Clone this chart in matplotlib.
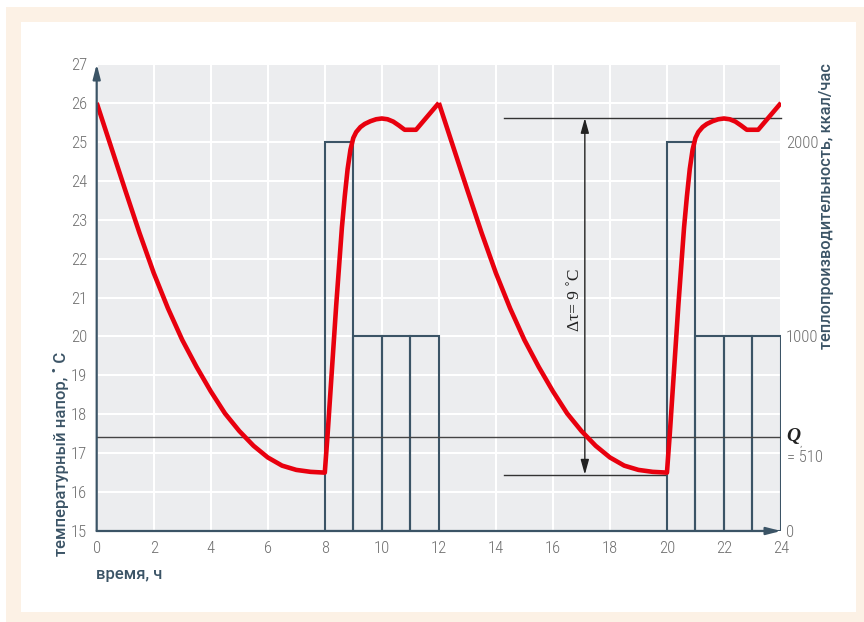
import matplotlib
matplotlib.use('Agg')
import matplotlib.pyplot as plt
from matplotlib.patches import Rectangle
import matplotlib.transforms as mtransforms

# ---------------- data ----------------
hours_cycle1 = [0.0, 0.5, 1.0, 1.5, 2.0, 2.5, 3.0, 3.5, 4.0, 4.5, 5.0, 5.5, 6.0, 6.5, 7.0, 7.5, 8.0,
                8.1, 8.2, 8.3, 8.4, 8.5, 8.6, 8.7, 8.8, 8.9, 9.0, 9.1, 9.25, 9.4, 9.6, 9.8, 10.0,
                10.2, 10.4, 10.6, 10.8, 11.2, 12.0]
temp_cycle1 = [26.0, 24.88, 23.76, 22.66, 21.63, 20.72, 19.91, 19.22, 18.59, 18.02, 17.57, 17.19, 16.89,
               16.68, 16.57, 16.52, 16.5,
               17.5, 18.6, 19.7, 20.8, 21.8, 22.8, 23.6, 24.3, 24.8, 25.1, 25.25, 25.38, 25.46, 25.53, 25.58, 25.6,
               25.58, 25.52, 25.42, 25.31, 25.31, 26.0]
hours_cycle2 = [12.0, 12.5, 13.0, 13.5, 14.0, 14.5, 15.0, 15.5, 16.0, 16.5, 17.0, 17.5, 18.0, 18.5, 19.0, 19.5, 20.0,
                20.1, 20.2, 20.3, 20.4, 20.5, 20.6, 20.7, 20.8, 20.9, 21.0, 21.1, 21.25, 21.4, 21.6, 21.8, 22.0,
                22.2, 22.4, 22.6, 22.8, 23.2, 24.0]
temp_cycle2 = [26.0, 24.88, 23.76, 22.66, 21.63, 20.72, 19.91, 19.22, 18.59, 18.02, 17.57, 17.19, 16.89,
               16.68, 16.57, 16.52, 16.5,
               17.5, 18.6, 19.7, 20.8, 21.8, 22.8, 23.6, 24.3, 24.8, 25.1, 25.25, 25.38, 25.46, 25.53, 25.58, 25.6,
               25.58, 25.52, 25.42, 25.31, 25.31, 26.0]

heater_start = [8, 9, 10, 11, 20, 21, 22, 23]
heater_power = [2000, 1000, 1000, 1000, 2000, 1000, 1000, 1000]

x_ticks = [0, 2, 4, 6, 8, 10, 12, 14, 16, 18, 20, 22, 24]
y_ticks = [15, 16, 17, 18, 19, 20, 21, 22, 23, 24, 25, 26, 27]
power_ticks = [0, 1000, 2000]

q_level = 17.42          # on temperature scale
q_text = '= 510'
dtau_top = 25.61
dtau_bottom = 16.45
dtau_x = 17.12
dtau_line_start = 14.3
dtau_bottom_end = 19.93
dtau_text = 'Δτ= 9 ˚C'

x_label = 'время, ч'
y_label = 'температурный напор, ˚ С'
y2_label = 'теплопроизводительность, ккал/час'

# ---------------- style ----------------
W, H = 864, 622
SLATE = '#3b5466'
TICKC = '#6e6e6e'
RED = '#e8000e'
tick_font = ['Roboto Condensed', 'Liberation Sans Narrow', 'Liberation Sans']
label_font = ['Roboto', 'DejaVu Sans']

fig = plt.figure(figsize=(W / 100, H / 100), dpi=100)
fig.patch.set_facecolor('white')
fig.patches.append(Rectangle((6 / W, 0), 1, 1 - 7 / H, transform=fig.transFigure,
                             facecolor='#fcf1e5', edgecolor='none', zorder=-10))
fig.patches.append(Rectangle((21 / W, (H - 612) / H), (856 - 21) / W, (612 - 22) / H,
                             transform=fig.transFigure, facecolor='white', edgecolor='none', zorder=-9))

left, right, top, bottom = 96.7, 781, 64, 531
ax = fig.add_axes([left / W, 1 - bottom / H, (right - left) / W, (bottom - top) / H])
ax.set_facecolor('#ecedef')
ax.set_xticks(x_ticks)
ax.set_yticks(y_ticks)
ax.grid(True, color='white', lw=1.5)
ax.set_axisbelow(True)
for s in ax.spines.values():
    s.set_visible(False)
ax.tick_params(length=0, pad=7, labelcolor=TICKC, labelsize=12)
for lab in ax.get_xticklabels() + ax.get_yticklabels():
    lab.set_family(tick_font)
    lab.set_weight('light')

ax2 = ax.twinx()
ax2.set_ylim(0, 2400)
ax2.set_yticks(power_ticks)
for s in ax2.spines.values():
    s.set_visible(False)
ax2.tick_params(length=0, pad=3.5, labelcolor=TICKC, labelsize=12)
for lab in ax2.get_yticklabels():
    lab.set_family(tick_font)
    lab.set_weight('light')

blend = mtransforms.blended_transform_factory(ax.transData, ax2.transData)
ax.bar(heater_start, heater_power, width=1, align='edge', fill=False,
       edgecolor=SLATE, lw=1.5, transform=blend, zorder=2)

ax.axhline(q_level, color='#444444', lw=1.0, zorder=3)

ax.plot(hours_cycle1, temp_cycle1, color=RED, lw=3.3, solid_joinstyle='round',
        solid_capstyle='butt', zorder=5)
ax.plot(hours_cycle2, temp_cycle2, color=RED, lw=3.3, solid_joinstyle='round',
        solid_capstyle='butt', zorder=5)

# Δτ annotation
ax.plot([dtau_line_start, 24], [dtau_top, dtau_top], color='#333333', lw=1.0, zorder=3, clip_on=False)
ax.plot([dtau_line_start, dtau_bottom_end], [dtau_bottom, dtau_bottom], color='#333333', lw=1.0, zorder=3)
ax.annotate('', xy=(dtau_x, dtau_top), xytext=(dtau_x, dtau_bottom),
            arrowprops=dict(arrowstyle='<|-|>,head_length=0.9,head_width=0.25', color='#222222',
                            lw=1.0, shrinkA=0, shrinkB=0, mutation_scale=10), zorder=4)
ax.text(dtau_x - 0.36, 20.94, dtau_text, rotation=90, ha='center', va='center',
        family=['Liberation Serif', 'DejaVu Serif'], fontsize=12.5, color='#222222', zorder=4)

# axis arrows
ax.set_xlim(0, 24)
ax.set_ylim(15, 27)
ax.annotate('', xy=(0, 27), xytext=(0, 15), annotation_clip=False,
            arrowprops=dict(arrowstyle='-|>,head_length=0.86,head_width=0.22', color=SLATE,
                            lw=1.6, shrinkA=0, shrinkB=0, mutation_scale=10), zorder=6)
ax.annotate('', xy=(24, 15), xytext=(0, 15), annotation_clip=False,
            arrowprops=dict(arrowstyle='-|>,head_length=0.86,head_width=0.22', color=SLATE,
                            lw=1.6, shrinkA=0, shrinkB=0, mutation_scale=10), zorder=6)

# labels
fig.text(96 / W, 1 - 575 / H, x_label, ha='left', va='center', fontsize=12,
         color=SLATE, family=label_font, weight='medium')
fig.text(61 / W, 1 - 556 / H, y_label, rotation=90, rotation_mode='anchor', ha='left',
         va='center', fontsize=12, color=SLATE, family=label_font, weight='medium')
fig.text(826 / W, 1 - 349 / H, y2_label, rotation=90, rotation_mode='anchor', ha='left',
         va='center', fontsize=11.8, color=SLATE, family=label_font, weight='medium')

# Q label
fig.text(793 / W, 1 - 436 / H, 'Q', ha='center', va='center', fontsize=14,
         family=['Liberation Serif', 'DejaVu Serif'], style='italic', weight='bold', color='#222222')
fig.text(801 / W, 1 - 444 / H, ',', ha='center', va='center', fontsize=5.5, color='#555555')
fig.text(787 / W, 1 - 458 / H, q_text, ha='left', va='center', fontsize=12,
         family=tick_font, weight='light', color=TICKC)

fig.savefig('out.png', dpi=100)
